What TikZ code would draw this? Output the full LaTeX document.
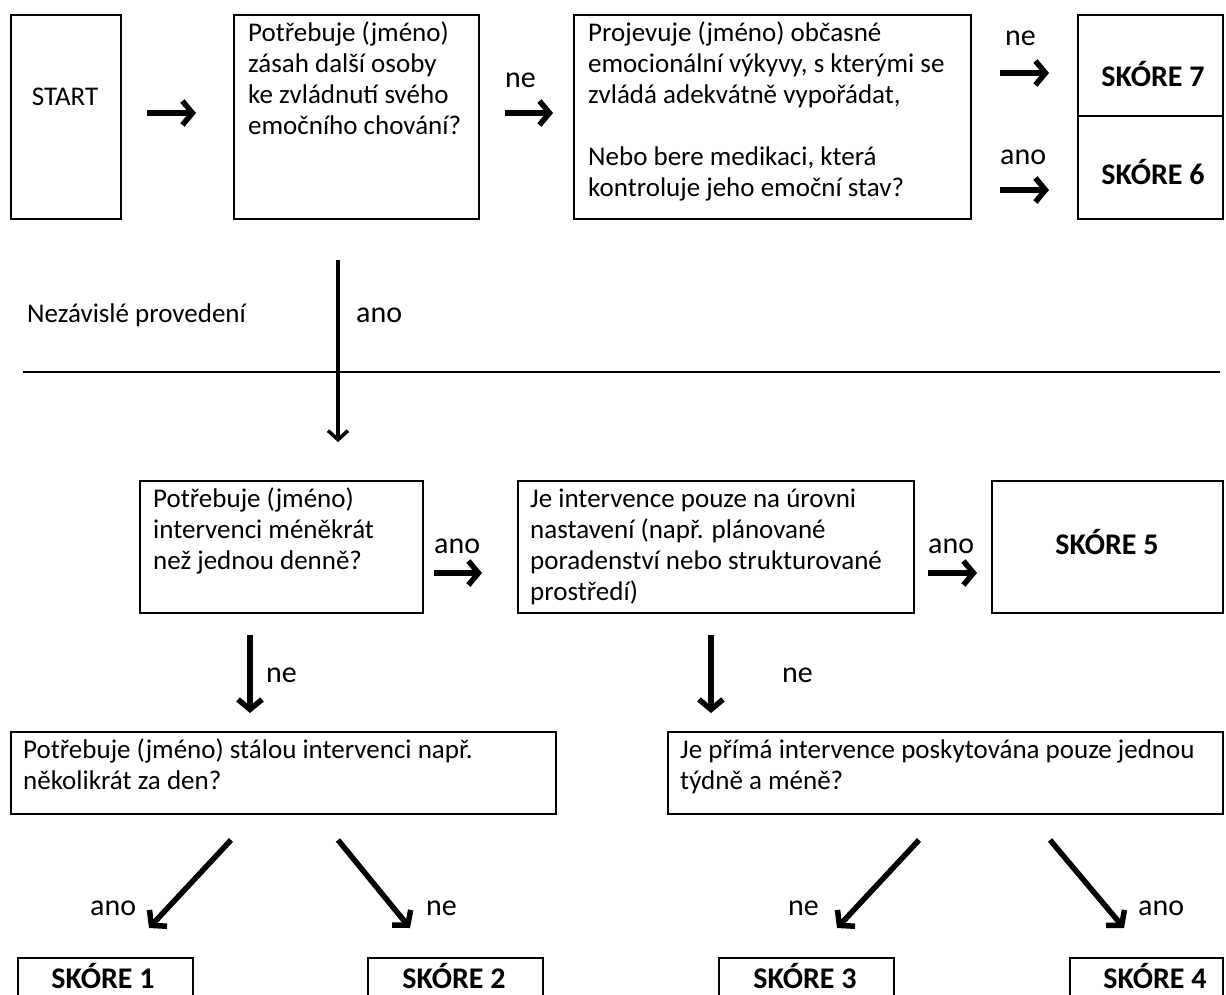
\documentclass[tikz,border=0pt]{standalone}
\usepackage{fontspec}
\setmainfont{Carlito}
\usetikzlibrary{arrows.meta}
\begin{document}
\begin{tikzpicture}[x=1pt,y=-1pt,
  box/.style={draw,line width=2pt,inner sep=0pt,anchor=north west},
  txt/.style={anchor=base west,inner sep=0pt,font=\fontsize{27}{31}\selectfont},
  ctxt/.style={anchor=base,inner sep=0pt,font=\fontsize{27}{31}\selectfont},
  score/.style={anchor=base,inner sep=0pt,font=\fontsize{30}{34}\selectfont\bfseries},
  lab/.style={anchor=base west,inner sep=0pt,font=\fontsize{30}{34}\selectfont},
  arr/.style={line width=5.5pt,-{Straight Barb[length=10pt,width=24pt,line width=5.5pt]}},
  thinarr/.style={line width=3.5pt,-{Straight Barb[length=9pt,width=20pt,line width=3.5pt]}},
]
\useasboundingbox (0,0) rectangle (1226,994);
\clip (0,0) rectangle (1226,994);

% ---- row 1 boxes
\node[box,minimum width=110pt,minimum height=204pt] (start) at (10,14) {};
\node[box,minimum width=245pt,minimum height=204pt] (b2) at (233,14) {};
\node[box,minimum width=397pt,minimum height=204pt] (b3) at (573,14) {};
\node[box,minimum width=145pt,minimum height=101pt] (s7) at (1077,14) {};
\node[box,minimum width=145pt,minimum height=103pt] (s6) at (1077,115) {};

\node[ctxt] (tstart) at (65,105) {START};
\node[txt] (b2l1) at (248,41) {Potřebuje (jméno)};
\node[txt] (b2l2) at (248,72) {zásah další osoby};
\node[txt] (b2l3) at (248,103) {ke zvládnutí svého};
\node[txt] (b2l4) at (248,134) {emočního chování?};
\node[txt] (b3l1) at (588,41) {Projevuje (jméno) občasné};
\node[txt] (b3l2) at (588,72) {emocionální výkyvy, s kterými se};
\node[txt] (b3l3) at (588,103) {zvládá adekvátně vypořádat,};
\node[txt] (b3l4) at (588,165) {Nebo bere medikaci, která};
\node[txt] (b3l5) at (588,196) {kontroluje jeho emoční stav?};
\node[score] (ts7) at (1153,86) {SKÓRE 7};
\node[score] (ts6) at (1153,184) {SKÓRE 6};

\node[lab] (lne1) at (505,87) {ne};
\node[lab] (lne2) at (1005,45) {ne};
\node[lab] (lano1) at (1000,164) {ano};

\coordinate (a1s) at (147,113); \coordinate (a1e) at (196,113);
\coordinate (a2s) at (505,113); \coordinate (a2e) at (553,113);
\coordinate (a3s) at (1000,73); \coordinate (a3e) at (1049,73);
\coordinate (a4s) at (1000,190); \coordinate (a4e) at (1049,190);
\draw[arr] (a1s) -- (a1e);
\draw[arr] (a2s) -- (a2e);
\draw[arr] (a3s) -- (a3e);
\draw[arr] (a4s) -- (a4e);

% ---- independent line
\node[txt] (nez) at (27,322) {Nezávislé provedení};
\node[lab] (lano2) at (356,322) {ano};
\coordinate (ls) at (23,372); \coordinate (le) at (1220,372);
\draw[line width=1.8pt] (ls) -- (le);
\coordinate (ms) at (338,260); \coordinate (me) at (338,442);
\draw[thinarr] (ms) -- (me);

% ---- row 2
\node[box,minimum width=283pt,minimum height=132pt] (b4) at (139,480) {};
\node[box,minimum width=396pt,minimum height=132pt] (b5) at (517,480) {};
\node[box,minimum width=231pt,minimum height=132pt] (s5) at (991,480) {};
\node[txt] (b4l1) at (153,507) {Potřebuje (jméno)};
\node[txt] (b4l2) at (153,538) {intervenci méněkrát};
\node[txt] (b4l3) at (153,569) {než jednou denně?};
\node[txt] (b5l1) at (530,507) {Je intervence pouze na úrovni};
\node[txt] (b5l2) at (530,538) {nastavení (např. plánované};
\node[txt] (b5l3) at (530,569) {poradenství nebo strukturované};
\node[txt] (b5l4) at (530,600) {prostředí)};
\node[score] (ts5) at (1107,554) {SKÓRE 5};
\node[lab] (lano3) at (434,553) {ano};
\node[lab] (lano4) at (928,553) {ano};
\coordinate (a5s) at (434,573); \coordinate (a5e) at (482,573);
\coordinate (a6s) at (928,573); \coordinate (a6e) at (977,573);
\draw[arr] (a5s) -- (a5e);
\draw[arr] (a6s) -- (a6e);

% ---- down arrows
\coordinate (d1s) at (250,635); \coordinate (d1e) at (250,713);
\coordinate (d2s) at (711,635); \coordinate (d2e) at (711,713);
\draw[arr] (d1s) -- (d1e);
\draw[arr] (d2s) -- (d2e);
\node[lab] (lne3) at (266,682) {ne};
\node[lab] (lne4) at (782,682) {ne};

% ---- row 3
\node[box,minimum width=545pt,minimum height=82pt] (b6) at (10,731) {};
\node[box,minimum width=555pt,minimum height=82pt] (b7) at (667,731) {};
\node[txt] (b6l1) at (23,758) {Potřebuje (jméno) stálou intervenci např.};
\node[txt] (b6l2) at (23,789) {několikrát za den?};
\node[txt] (b7l1) at (680,758) {Je přímá intervence poskytována pouze jednou};
\node[txt] (b7l2) at (680,789) {týdně a méně?};

% ---- diagonal arrows
\coordinate (e1s) at (231,840); \coordinate (e1e) at (149,928);
\coordinate (e2s) at (338,840); \coordinate (e2e) at (410,928);
\coordinate (e3s) at (919,840); \coordinate (e3e) at (837,928);
\coordinate (e4s) at (1050,840); \coordinate (e4e) at (1124,928);
\draw[arr] (e1s) -- (e1e);
\draw[arr] (e2s) -- (e2e);
\draw[arr] (e3s) -- (e3e);
\draw[arr] (e4s) -- (e4e);
\node[lab] (lano5) at (90,915) {ano};
\node[lab] (lne5) at (426,915) {ne};
\node[lab] (lne6) at (788,915) {ne};
\node[lab] (lano6) at (1138,915) {ano};

% ---- bottom score boxes
\node[box,minimum width=175pt,minimum height=60pt] (s1) at (17,957) {};
\node[box,minimum width=175pt,minimum height=60pt] (s2) at (367,957) {};
\node[box,minimum width=175pt,minimum height=60pt] (s3) at (718,957) {};
\node[box,minimum width=153pt,minimum height=60pt] (s4) at (1069,957) {};
\node[score] (ts1) at (103,988) {SKÓRE 1};
\node[score] (ts2) at (454,988) {SKÓRE 2};
\node[score] (ts3) at (805,988) {SKÓRE 3};
\node[score] (ts4) at (1155,988) {SKÓRE 4};
\end{tikzpicture}
\end{document}
